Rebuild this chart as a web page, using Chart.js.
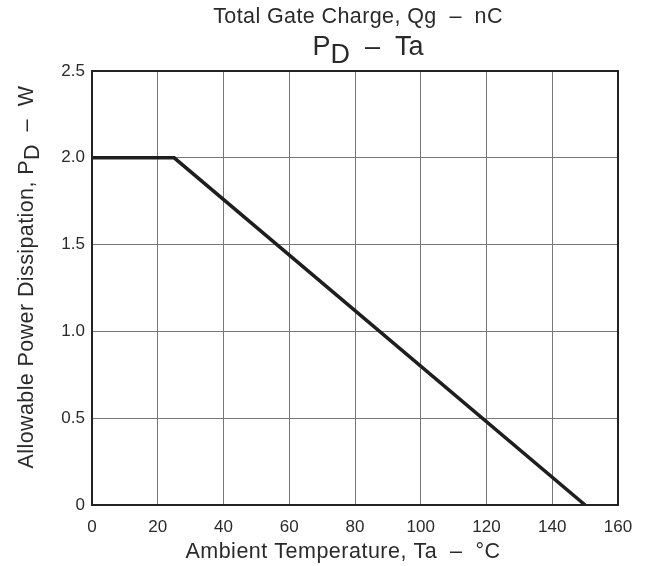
<!DOCTYPE html>
<html>
<head>
<meta charset="utf-8">
<script src="https://cdn.jsdelivr.net/npm/chart.js@4"></script>
<style>
  html, body { margin: 0; padding: 0; background: #fff; }
  #wrap { width: 646px; height: 566px; }
</style>
</head>
<body>
<div id="wrap"><canvas id="pdChart" width="646" height="566"></canvas></div>
<script>
// Data
const ambientTemp = [0, 25, 150];
const powerDiss = [2.0, 2.0, 0];

// Axis ticks
const xTicks = [0, 20, 40, 60, 80, 100, 120, 140, 160];
const yTicks = [0, 0.5, 1.0, 1.5, 2.0, 2.5];
const yTickLabels = ["0", "0.5", "1.0", "1.5", "2.0", "2.5"];

const FONT = "'Liberation Sans', Arial, sans-serif";
const TEXT = "#2a2a2a";

// draw a run of text pieces centred on x, some of them subscript
function drawRuns(ctx, runs, size, spacing, x, y) {
  ctx.font = `${size}px ${FONT}`;
  ctx.letterSpacing = spacing + "px";
  let w = 0;
  runs.forEach(r => { w += ctx.measureText(r.t).width; });
  let cx = x - w / 2;
  runs.forEach(r => {
    ctx.fillText(r.t, cx, r.sub ? y + size * 0.29 : y);
    cx += ctx.measureText(r.t).width;
  });
  ctx.letterSpacing = "0px";
}

const textPlugin = {
  id: "titles",
  afterDraw(chart) {
    const ctx = chart.ctx;
    ctx.save();
    ctx.fillStyle = TEXT;
    ctx.textBaseline = "alphabetic";
    ctx.textAlign = "left";
    drawRuns(ctx, [{ t: "Total Gate Charge, Qg  \u2013  nC" }], 21.5, 0.4, 358, 23);
    drawRuns(ctx, [{ t: "P" }, { t: "D", sub: true }, { t: "  \u2013  Ta" }], 27, 0, 368, 55);
    drawRuns(ctx, [{ t: "Ambient Temperature, Ta  \u2013  \u00b0C" }], 21.5, 0.5, 343, 558);
    ctx.translate(33, 277);
    ctx.rotate(-Math.PI / 2);
    drawRuns(ctx, [{ t: "Allowable Power Dissipation, P" }, { t: "D", sub: true }, { t: "  \u2013  W" }], 21.5, 0.4, 0, 0);
    ctx.restore();
  }
};

const borderPlugin = {
  id: "frame",
  afterDatasetsDraw(chart) {
    const { ctx, chartArea: a } = chart;
    ctx.save();
    ctx.strokeStyle = "#222";
    ctx.lineWidth = 2;
    ctx.strokeRect(a.left, a.top, a.right - a.left, a.bottom - a.top);
    ctx.restore();
  }
};

new Chart(document.getElementById("pdChart"), {
  type: "line",
  data: {
    datasets: [{
      data: ambientTemp.map((t, i) => ({ x: t, y: powerDiss[i] })),
      borderColor: "#1e1e1e",
      borderWidth: 3.5,
      pointRadius: 0,
      fill: false,
      tension: 0
    }]
  },
  options: {
    responsive: false,
    animation: false,
    layout: { padding: { left: 0, top: 71, right: 28, bottom: 0 } },
    plugins: { legend: { display: false }, tooltip: { enabled: false } },
    scales: {
      x: {
        type: "linear",
        min: 0,
        max: 160,
        afterBuildTicks: s => { s.ticks = xTicks.map(v => ({ value: v })); },
        afterFit: s => { s.height = 61; },
        grid: { color: "#777", lineWidth: 1, drawTicks: false },
        border: { display: false },
        ticks: { padding: 12, color: TEXT, font: { family: FONT, size: 17 }, maxRotation: 0 }
      },
      y: {
        min: 0,
        max: 2.5,
        afterBuildTicks: s => { s.ticks = yTicks.map(v => ({ value: v })); },
        afterFit: s => { s.width = 92; },
        grid: { color: "#777", lineWidth: 1, drawTicks: false },
        border: { display: false },
        ticks: {
          padding: 7,
          color: TEXT,
          font: { family: FONT, size: 17 },
          callback: (v, i) => yTickLabels[i]
        }
      }
    }
  },
  plugins: [textPlugin, borderPlugin]
});
</script>
</body>
</html>
